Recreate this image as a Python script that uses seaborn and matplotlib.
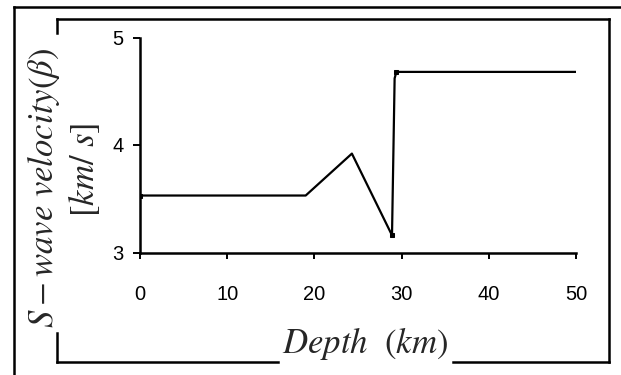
import matplotlib
matplotlib.use("Agg")
import matplotlib.pyplot as plt
from matplotlib.lines import Line2D
import seaborn as sns
import pandas as pd

# S-wave velocity profile versus depth
depth_km = [0.0, 19.0, 24.3, 28.9, 29.2, 29.4, 50.0]
beta_kms = [3.53, 3.53, 3.92, 3.16, 4.62, 4.68, 4.68]

x_ticks = [0, 10, 20, 30, 40, 50]
y_ticks = [3, 4, 5]

df = pd.DataFrame({"depth": depth_km, "beta": beta_kms})

sns.set_style("white")
plt.rcParams["font.family"] = ["Liberation Sans", "DejaVu Sans"]
plt.rcParams["mathtext.fontset"] = "stix"

W, H = 621, 375
fig = plt.figure(figsize=(W / 100, H / 100), dpi=100)
ax = fig.add_axes([140 / W, 1 - 252.5 / H, (576 - 140) / W, (252.5 - 37.5) / H])

sns.lineplot(data=df, x="depth", y="beta", ax=ax, color="black", lw=1.6,
             marker="s", markersize=2.5, markeredgecolor="black",
             markerfacecolor="black", markevery=[0, 3, 5], sort=False)

ax.set_xlim(0, 50)
ax.set_ylim(3, 5)
ax.set_xticks(x_ticks)
ax.set_yticks(y_ticks)
ax.set_xlabel("")
ax.set_ylabel("")
for side in ("top", "right"):
    ax.spines[side].set_visible(False)
for side in ("left", "bottom"):
    ax.spines[side].set_linewidth(1.8)
    ax.spines[side].set_color("black")
ax.tick_params(axis="x", bottom=True, direction="out", length=4.5, width=1.4,
               pad=19, labelsize=14.5, colors="black")
ax.tick_params(axis="y", left=True, direction="out", length=5, width=1.4,
               pad=7, labelsize=14.5, colors="black")
ax.patch.set_alpha(0)

# axis titles
fig.text(365 / W, 1 - 343 / H, r"$Depth\ \ (km)$", ha="center", va="center",
         fontsize=25)
fig.text(44 / W, 1 - 188 / H, r"$S-wave\ velocity(\beta)$", ha="center",
         va="center", rotation=90, fontsize=25)
fig.text(84 / W, 1 - 170 / H, r"$[km/\ s]$", ha="center", va="center",
         rotation=90, fontsize=25)


def seg(x0, y0, x1, y1, lw=1.8):
    fig.add_artist(Line2D([x0 / W, x1 / W], [1 - y0 / H, 1 - y1 / H],
                          color="black", lw=lw, solid_capstyle="projecting"))


# outer frame
seg(14, 7, W, 7)
seg(14, 7, 14, H)
# inner frame with openings for the axis titles
seg(57, 19, 609, 19)
seg(609, 19, 609, 362)
seg(57, 362, 278, 362)
seg(453, 362, 609, 362)
seg(57, 19, 57, 33)
seg(57, 333, 57, 362)

fig.savefig("out.png", dpi=100)
